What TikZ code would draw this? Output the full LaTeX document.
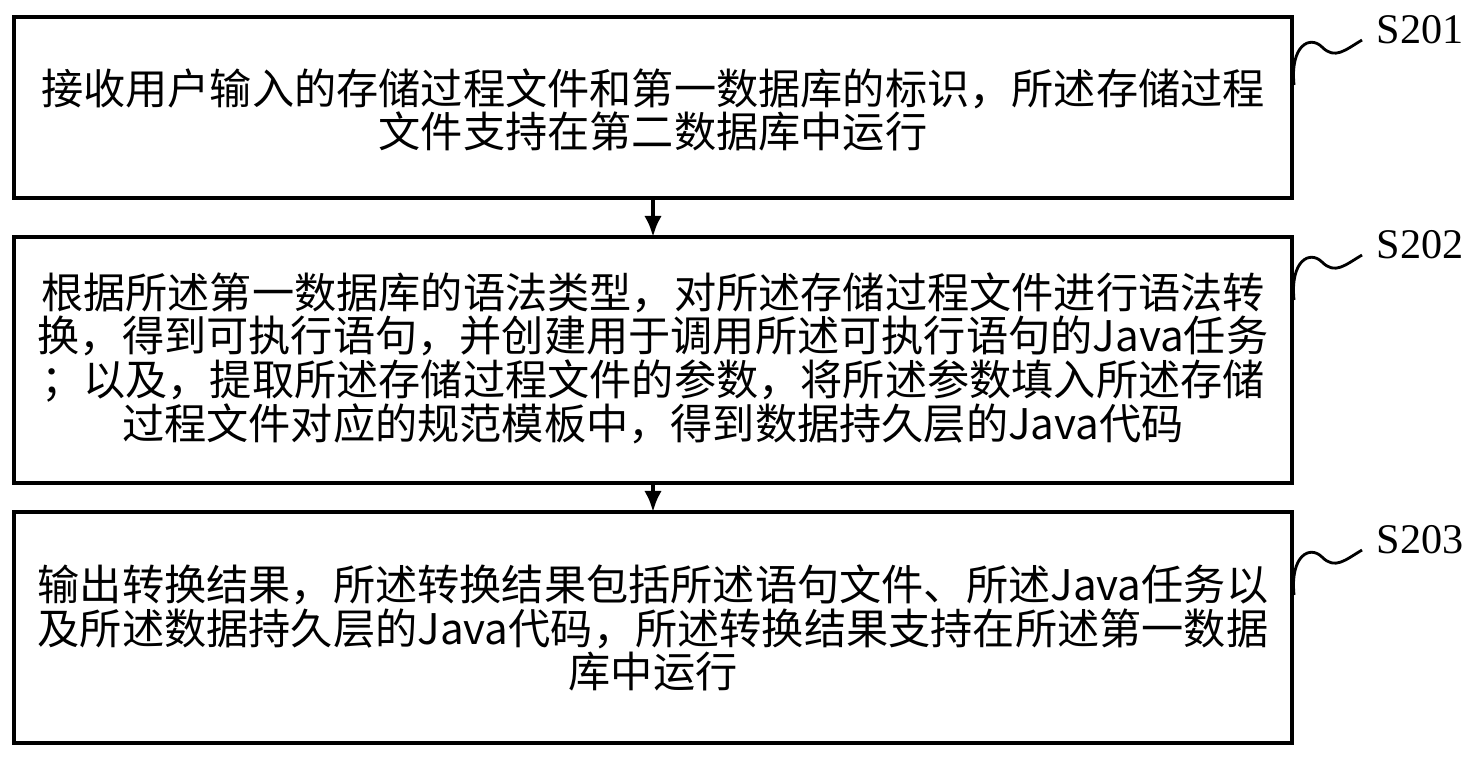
\documentclass[tikz,border=0pt]{standalone}
\usepackage{fontspec}
\usetikzlibrary{arrows.meta}
\setmainfont{Liberation Serif}
\newfontfamily\cjk{Noto Sans CJK SC}
\begin{document}
\begin{tikzpicture}[x=0.01cm,y=-0.01cm,
  txt/.style={align=center,font=\cjk\fontsize{12pt}{12.4pt}\selectfont},
  lbl/.style={font=\fontsize{12pt}{13pt}\selectfont},
  arr/.style={-{Latex[length=6pt,width=5pt]},line width=1.2pt},
  sq/.style={line width=0.8pt}]
\useasboundingbox (0,0) rectangle (1474,756);
\draw[line width=1.2pt] (14,17) rectangle (1292,198);
\draw[line width=1.2pt] (14,237) rectangle (1292,483);
\draw[line width=1.2pt] (14,512) rectangle (1292,743);
\coordinate (b1s) at (653,198); \coordinate (b2n) at (653,237);
\coordinate (b2s) at (653,483); \coordinate (b3n) at (653,512);
\node[txt] (t1) at (653,110) {接收用户输入的存储过程文件和第一数据库的标识，所述存储过程\\文件支持在第二数据库中运行};
\node[txt] (t2) at (653,358) {根据所述第一数据库的语法类型，对所述存储过程文件进行语法转\\换，得到可执行语句，并创建用于调用所述可执行语句的Java任务\\；以及，提取所述存储过程文件的参数，将所述参数填入所述存储\\过程文件对应的规范模板中，得到数据持久层的Java代码};
\node[txt] (t3) at (653,628) {输出转换结果，所述转换结果包括所述语句文件、所述Java任务以\\及所述数据持久层的Java代码，所述转换结果支持在所述第一数据\\库中运行};
\draw[arr] (b1s) -- (b2n);
\draw[arr] (b2s) -- (b3n);
\node[lbl] (s1) at (1420,30) {S201};
\node[lbl] (s2) at (1420,245) {S202};
\node[lbl] (s3) at (1420,540) {S203};
\foreach \y/\n in {85/a,300/b,595/c}{
  \coordinate (p\n) at (1294,\y);
  \coordinate (q\n) at (1362,\y-45);
  \draw[sq] (p\n) .. controls (1290,\y-40) and (1310,\y-50) .. (1322,\y-38)
    .. controls (1335,\y-25) and (1345,\y-35) .. (q\n);
}
\end{tikzpicture}
\end{document}
